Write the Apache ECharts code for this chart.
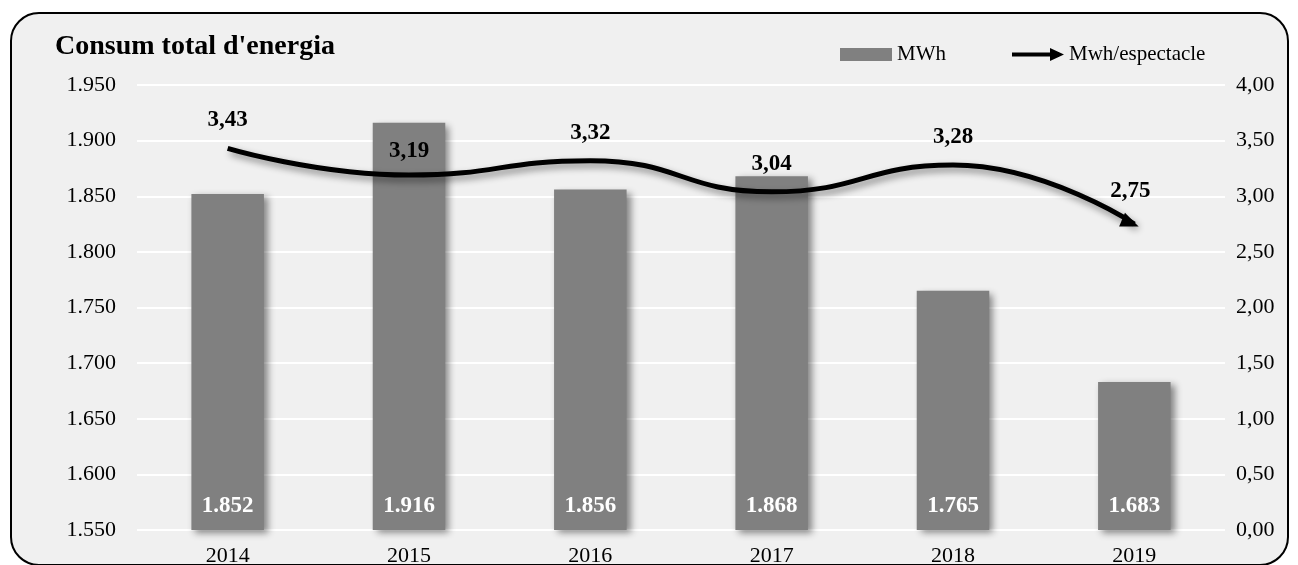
<!DOCTYPE html>
<html>
<head>
<meta charset="utf-8">
<script src="https://cdn.jsdelivr.net/npm/echarts@6/dist/echarts.min.js"></script>
<style>
html,body{margin:0;padding:0;background:#fff;}
#c{width:1298px;height:565px;}
</style>
</head>
<body>
<div id="c"></div>
<script>
const years = ['2014','2015','2016','2017','2018','2019'];
const mwh = [1852, 1916, 1856, 1868, 1765, 1683];
const mwhPerShow = [3.43, 3.19, 3.32, 3.04, 3.28, 2.75];
const leftTicks = {min: 1550, max: 1950, interval: 50};
const rightTicks = {min: 0, max: 4, interval: 0.5};

const FONT = '"Liberation Serif", "DejaVu Serif", serif';
const fmtThousands = v => String(Math.round(v)).replace(/\B(?=(\d{3})+(?!\d))/g, '.');
const fmtDec = v => Number(v).toFixed(2).replace('.', ',');

const lineData = mwhPerShow.map((v, i) => {
  if (i === mwhPerShow.length - 1) {
    return {value: v, symbol: 'triangle', symbolSize: [15, 18], symbolRotate: -113,
            symbolOffset: [-4, -1],
            itemStyle: {color: '#000'}, label: {distance: 10}};
  }
  if (i === 1) return {value: v, label: {distance: 12}};
  return {value: v};
});

const chart = echarts.init(document.getElementById('c'));
chart.setOption({
  animation: false,
  backgroundColor: '#ffffff',
  textStyle: {fontFamily: FONT},
  graphic: [{
    type: 'rect', z: -100, silent: true,
    shape: {x: 11, y: 13, width: 1277, height: 552, r: 28},
    style: {fill: '#f0f0f0', stroke: '#000', lineWidth: 2}
  }],
  title: {
    text: "Consum total d'energia", left: 50, top: 28,
    textStyle: {fontFamily: FONT, fontWeight: 'bold', fontSize: 28, color: '#000'}
  },
  legend: [{
    left: 840, top: 44, padding: 0, itemWidth: 52, itemHeight: 13, itemGap: 5,
    textStyle: {fontFamily: FONT, fontSize: 21, color: '#000'},
    data: [{name: 'MWh', icon: 'rect'}]
  }, {
    left: 1012, top: 44, padding: 0, itemWidth: 52, itemHeight: 13, itemGap: 5,
    textStyle: {fontFamily: FONT, fontSize: 21, color: '#000'},
    data: [{name: 'Mwh/espectacle', icon: 'path://M0,4.5 L38,4.5 L38,0 L52,6.5 L38,13 L38,8.5 L0,8.5 Z',
            itemStyle: {color: '#000', opacity: 1}}]
  }],
  grid: {left: 137, right: 73, top: 85, bottom: 35, containLabel: false, outerBoundsMode: 'none'},
  xAxis: {
    type: 'category', data: years,
    axisLine: {show: false}, axisTick: {show: false},
    axisLabel: {fontFamily: FONT, fontSize: 22, color: '#000', margin: 15}
  },
  yAxis: [{
    type: 'value', min: leftTicks.min, max: leftTicks.max, interval: leftTicks.interval,
    axisLine: {show: false}, axisTick: {show: false},
    splitLine: {lineStyle: {color: '#ffffff', width: 2}},
    axisLabel: {fontFamily: FONT, fontSize: 22, color: '#000', margin: 21, formatter: fmtThousands}
  }, {
    type: 'value', min: rightTicks.min, max: rightTicks.max, interval: rightTicks.interval,
    axisLine: {show: false}, axisTick: {show: false}, splitLine: {show: false},
    axisLabel: {fontFamily: FONT, fontSize: 22, color: '#000', margin: 11, formatter: fmtDec}
  }],
  series: [{
    name: 'MWh', type: 'bar', data: mwh, yAxisIndex: 0,
    barWidth: '40%',
    itemStyle: {color: '#808080', shadowColor: 'rgba(0,0,0,0.45)', shadowBlur: 7, shadowOffsetX: 4, shadowOffsetY: 3},
    label: {show: true, position: 'insideBottom', distance: 12, color: '#fff',
            fontFamily: FONT, fontWeight: 'bold', fontSize: 23, formatter: p => fmtThousands(p.value)}
  }, {
    name: 'Mwh/espectacle', type: 'line', data: lineData, yAxisIndex: 1,
    smooth: 0.5, symbol: 'circle', symbolSize: 1, showSymbol: true,
    itemStyle: {color: 'rgba(0,0,0,0)'},
    lineStyle: {color: '#000', width: 5, shadowColor: 'rgba(0,0,0,0.45)', shadowBlur: 7, shadowOffsetX: 3, shadowOffsetY: 4},
    label: {show: true, position: 'top', distance: 16, color: '#000',
            fontFamily: FONT, fontWeight: 'bold', fontSize: 23, formatter: p => fmtDec(p.value)},
    z: 5
  }]
});
</script>
</body>
</html>
